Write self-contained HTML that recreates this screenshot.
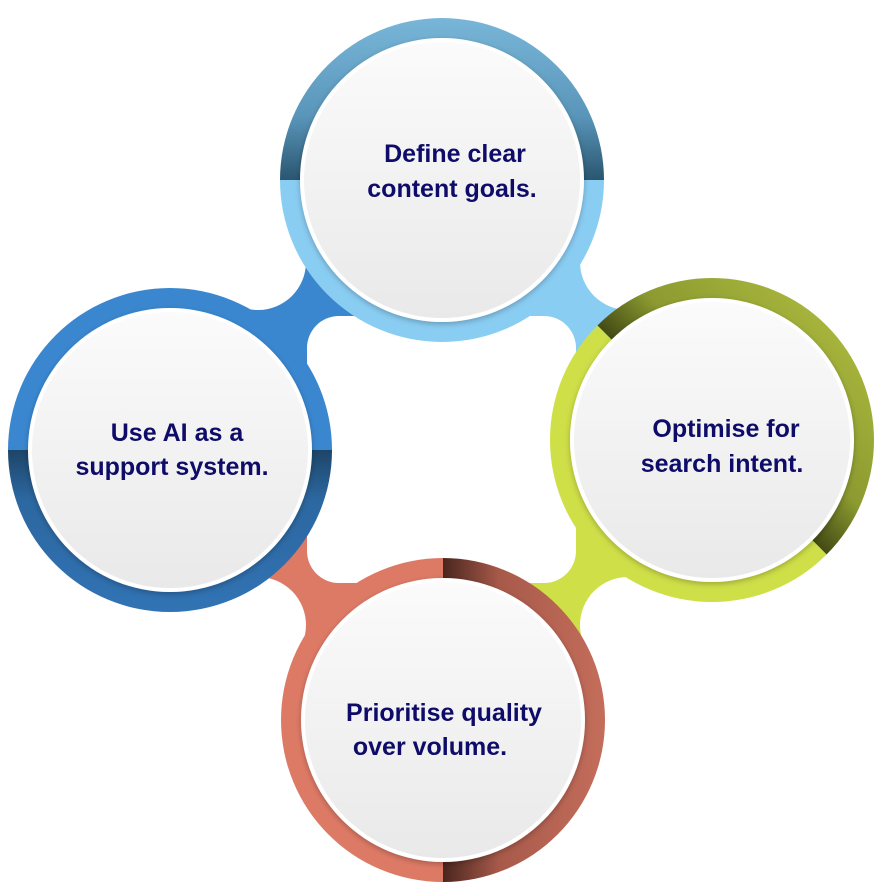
<!DOCTYPE html>
<html><head><meta charset="utf-8"><style>
html,body{margin:0;padding:0;background:#fff;}
svg{display:block}
text{font-family:"Liberation Sans",sans-serif;font-weight:bold;font-size:25px;fill:#0e0c68;text-anchor:middle}
</style></head><body>
<svg width="888" height="894" viewBox="0 0 888 894">
<defs>
<linearGradient id="gTop" x1="0" y1="0" x2="0" y2="1"><stop offset="0" stop-color="#78b6d8"/><stop offset="0.6" stop-color="#5a96ba"/><stop offset="1" stop-color="#2a5670"/></linearGradient>
<linearGradient id="gLeft" x1="0" y1="0" x2="0" y2="1"><stop offset="0" stop-color="#1d4568"/><stop offset="0.3" stop-color="#2c67a0"/><stop offset="1" stop-color="#3173b4"/></linearGradient>
<linearGradient id="gRight" x1="0" y1="1" x2="0" y2="0"><stop offset="0" stop-color="#434a14"/><stop offset="0.35" stop-color="#8c9a30"/><stop offset="1" stop-color="#a6b43c"/></linearGradient>
<linearGradient id="gBot" x1="0" y1="0" x2="1" y2="0"><stop offset="0" stop-color="#4a261e"/><stop offset="0.35" stop-color="#a85a4a"/><stop offset="1" stop-color="#c46d5b"/></linearGradient>
<linearGradient id="gIn" x1="0" y1="0" x2="0" y2="1"><stop offset="0" stop-color="#fbfbfb"/><stop offset="1" stop-color="#e9e9e9"/></linearGradient>
<filter id="sh" x="-20%" y="-20%" width="140%" height="140%"><feDropShadow dx="0" dy="2" stdDeviation="3" flood-color="#000" flood-opacity="0.25"/></filter>
<clipPath id="dia"><polygon points="442,100 792,440 443,800 90,450"/></clipPath>
</defs>
<!-- connectors -->
<g clip-path="url(#dia)">
<rect x="150" y="150" width="291" height="295" fill="#3a87d0"/>
<rect x="441" y="150" width="300" height="295" fill="#8acdf3"/>
<rect x="441" y="445" width="300" height="300" fill="#cfdf48"/>
<rect x="150" y="445" width="291" height="300" fill="#dd7a66"/>
</g>
<circle cx="258" cy="262" r="48" fill="#fff"/>
<circle cx="628" cy="262" r="48" fill="#fff"/>
<circle cx="258" cy="625" r="48" fill="#fff"/>
<circle cx="628" cy="625" r="48" fill="#fff"/>
<rect x="307" y="316" width="269" height="267" rx="32" fill="#fff"/>
<!-- top ring -->
<g>
<path d="M280,180 A162,162 0 0 1 604,180 Z" fill="url(#gTop)"/>
<path d="M280,180 A162,162 0 0 0 604,180 Z" fill="#8acdf3"/>
<circle cx="442" cy="180" r="142" fill="#fff" filter="url(#sh)"/>
<circle cx="442" cy="180" r="138" fill="url(#gIn)"/>
</g>
<!-- left ring -->
<g>
<path d="M8,450 A162,162 0 0 1 332,450 Z" fill="#3a87d0"/>
<path d="M8,450 A162,162 0 0 0 332,450 Z" fill="url(#gLeft)"/>
<circle cx="170" cy="450" r="142" fill="#fff" filter="url(#sh)"/>
<circle cx="170" cy="450" r="138" fill="url(#gIn)"/>
</g>
<!-- right ring -->
<g>
<g transform="rotate(45 712 440)">
<path d="M550,440 A162,162 0 0 1 874,440 Z" fill="url(#gRight)"/>
<path d="M550,440 A162,162 0 0 0 874,440 Z" fill="#cfdf48"/>
</g>
<circle cx="712" cy="440" r="142" fill="#fff" filter="url(#sh)"/>
<circle cx="712" cy="440" r="138" fill="url(#gIn)"/>
</g>
<!-- bottom ring -->
<g>
<path d="M443,558 A162,162 0 0 0 443,882 Z" fill="#dd7a66"/>
<path d="M443,558 A162,162 0 0 1 443,882 Z" fill="url(#gBot)"/>
<circle cx="443" cy="720" r="142" fill="#fff" filter="url(#sh)"/>
<circle cx="443" cy="720" r="138" fill="url(#gIn)"/>
</g>
<text x="455" y="162">Define clear</text>
<text x="452" y="197">content goals.</text>
<text x="177" y="441">Use AI as a</text>
<text x="172" y="475">support system.</text>
<text x="726" y="437">Optimise for</text>
<text x="722" y="472">search intent.</text>
<text x="444" y="721">Prioritise quality</text>
<text x="430" y="755">over volume.</text>
</svg>
</body></html>
